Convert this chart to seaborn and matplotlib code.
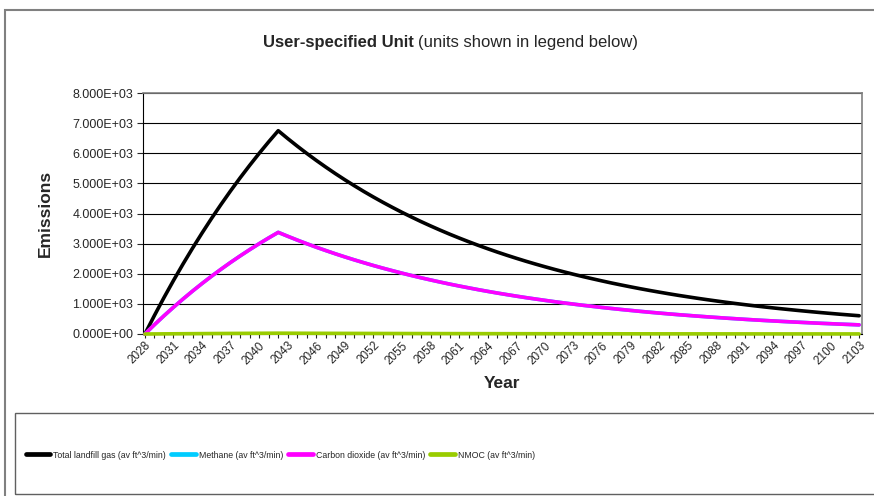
import pandas as pd
import matplotlib
matplotlib.use('Agg')
import matplotlib.pyplot as plt
from matplotlib.patches import Rectangle
from matplotlib.lines import Line2D
from matplotlib.ticker import MultipleLocator, FuncFormatter
import seaborn as sns

# Dados (anos 2028..2103)
anos = list(range(2028, 2104))

total_gas = [0, 615, 1207, 1775, 2322, 2847, 3352, 3838, 4304, 4753,
             5184, 5598, 5997, 6380, 6748, 6487, 6236, 5994, 5762, 5539,
             5324, 5118, 4920, 4729, 4546, 4370, 4201, 4038, 3882, 3731,
             3587, 3448, 3314, 3186, 3063, 2944, 2830, 2720, 2615, 2514,
             2416, 2323, 2233, 2146, 2063, 1983, 1906, 1833, 1762, 1693,
             1628, 1565, 1504, 1446, 1390, 1336, 1284, 1235, 1187, 1141,
             1097, 1054, 1013, 974, 936, 900, 865, 832, 800, 769,
             739, 710, 683, 656, 631, 606]

metano = [0, 308, 604, 888, 1161, 1424, 1676, 1919, 2152, 2377,
          2592, 2799, 2999, 3190, 3374, 3244, 3118, 2997, 2881, 2770,
          2662, 2559, 2460, 2365, 2273, 2185, 2101, 2019, 1941, 1866,
          1794, 1724, 1657, 1593, 1532, 1472, 1415, 1360, 1308, 1257,
          1208, 1162, 1117, 1073, 1032, 992, 953, 917, 881, 847,
          814, 783, 752, 723, 695, 668, 642, 618, 594, 571,
          549, 527, 507, 487, 468, 450, 433, 416, 400, 385,
          370, 355, 342, 328, 316, 303]

dioxido_carbono = [0, 308, 604, 888, 1161, 1424, 1676, 1919, 2152, 2377,
                   2592, 2799, 2999, 3190, 3374, 3244, 3118, 2997, 2881, 2770,
                   2662, 2559, 2460, 2365, 2273, 2185, 2101, 2019, 1941, 1866,
                   1794, 1724, 1657, 1593, 1532, 1472, 1415, 1360, 1308, 1257,
                   1208, 1162, 1117, 1073, 1032, 992, 953, 917, 881, 847,
                   814, 783, 752, 723, 695, 668, 642, 618, 594, 571,
                   549, 527, 507, 487, 468, 450, 433, 416, 400, 385,
                   370, 355, 342, 328, 316, 303]

nmoc = [0, 2.5, 4.8, 7.1, 9.3, 11.4, 13.4, 15.4, 17.2, 19.0,
        20.7, 22.4, 24.0, 25.5, 27.0, 25.9, 24.9, 24.0, 23.0, 22.2,
        21.3, 20.5, 19.7, 18.9, 18.2, 17.5, 16.8, 16.2, 15.5, 14.9,
        14.3, 13.8, 13.3, 12.7, 12.3, 11.8, 11.3, 10.9, 10.5, 10.1,
        9.7, 9.3, 8.9, 8.6, 8.3, 7.9, 7.6, 7.3, 7.0, 6.8,
        6.5, 6.3, 6.0, 5.8, 5.6, 5.3, 5.1, 4.9, 4.7, 4.6,
        4.4, 4.2, 4.1, 3.9, 3.7, 3.6, 3.5, 3.3, 3.2, 3.1,
        3.0, 2.8, 2.7, 2.6, 2.5, 2.4]

series = ['Total landfill gas (av ft^3/min)', 'Methane (av ft^3/min)',
          'Carbon dioxide (av ft^3/min)', 'NMOC (av ft^3/min)']
cores = ['#000000', '#00CCFF', '#FF00FF', '#99CC00']

dados = pd.concat([
    pd.DataFrame({'Year': anos, 'Emissions': vals, 'Serie': nome})
    for nome, vals in zip(series, [total_gas, metano, dioxido_carbono, nmoc])
])

sns.set_style('white')
plt.rcParams['font.family'] = ['Liberation Sans', 'DejaVu Sans']

fig = plt.figure(figsize=(8.74, 4.96), dpi=100)
ax = fig.add_axes([143/874, 1 - 334/496, (862 - 143)/874, (334 - 93)/496])

sns.lineplot(data=dados, x='Year', y='Emissions', hue='Serie', hue_order=series,
             palette=cores, linewidth=2.6, ax=ax, legend=False)
for linha in ax.get_lines():
    linha.set_clip_on(False)
    linha.set_zorder(3)

ax.set_xlim(2027.8, 2103.3)
ax.set_ylim(0, 8000)
ax.yaxis.set_major_locator(MultipleLocator(1000))
ax.yaxis.set_major_formatter(FuncFormatter(lambda v, p: '%.3fE+03' % (v / 1000) if v > 0 else '0.000E+00'))
ax.set_xticks(range(2028, 2104, 3))
ax.xaxis.set_minor_locator(MultipleLocator(1))
ax.xaxis.set_major_formatter(FuncFormatter(lambda v, p: '%d' % v))
ax.grid(axis='y', color='black', linewidth=0.8)
ax.set_axisbelow(True)

for lado in ['top', 'right']:
    ax.spines[lado].set_color('#808080')
    ax.spines[lado].set_linewidth(1.2)
ax.spines['left'].set_color('black')
ax.spines['bottom'].set_color('black')

ax.tick_params(axis='y', which='major', direction='out', length=4, width=0.8, left=True, labelsize=9, pad=3)
ax.tick_params(axis='x', which='major', direction='out', length=3, width=0.8, bottom=True, labelsize=8.5, pad=1)
ax.tick_params(axis='x', which='minor', direction='out', length=3, width=0.8, bottom=True)
plt.setp(ax.get_xticklabels(), rotation=45, ha='right', rotation_mode='anchor')

ax.set_xlabel('Year', fontsize=12.5, fontweight='bold', labelpad=7)
ax.set_ylabel('Emissions', fontsize=12.5, fontweight='bold', labelpad=14)

# Título (parte em negrito + parte normal)
fig.text(414/874, 1 - 43/496, 'User-specified Unit', fontsize=12, fontweight='bold',
         ha='right', va='center')
fig.text(418/874, 1 - 43/496, '(units shown in legend below)', fontsize=12,
         ha='left', va='center')

# Moldura externa e caixa da legenda
fig.patches.append(Rectangle((5/874, -0.02), 1.0, 1 - 10/496 + 0.02, transform=fig.transFigure,
                             fill=False, edgecolor='#808080', linewidth=1.5))
fig.patches.append(Rectangle((15/874, 1 - 494/496), 1.0, (494 - 413)/496, transform=fig.transFigure,
                             fill=False, edgecolor='#606060', linewidth=1.0))

handles = [Line2D([0], [0], color=c, linewidth=3.4, solid_capstyle='round') for c in cores]
fig.legend(handles, series, loc='center left', bbox_to_anchor=(22/874, 1 - 455/496),
           ncol=4, frameon=False, fontsize=6.3,
           handlelength=2.8, handletextpad=0.35, columnspacing=0.6, borderaxespad=0)

fig.savefig('out.png', dpi=100)
